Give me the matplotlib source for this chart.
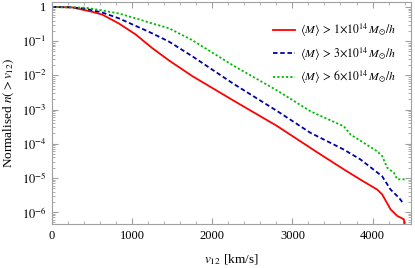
import numpy as np
import matplotlib
matplotlib.use("Agg")
import matplotlib.pyplot as plt
from matplotlib.ticker import FixedLocator, MultipleLocator, FuncFormatter, LogLocator

plt.rcParams['font.family'] = ['Liberation Serif', 'DejaVu Serif']
plt.rcParams['mathtext.fontset'] = 'stix'

# v12 [km/s] and log10 of normalised n(>v12)
v_red = [0, 250, 500, 625, 833, 1042, 1250, 1458, 1750, 2267, 2808, 3290, 3642, 3850,
         4058, 4120, 4225, 4308, 4392, 4405]
logn_red = [0, -0.01, -0.14, -0.22, -0.48, -0.8, -1.2, -1.56, -2.02, -2.74, -3.48,
            -4.22, -4.75, -5.05, -5.34, -5.48, -5.92, -6.11, -6.21, -6.6]

v_blue = [0, 250, 417, 625, 833, 1042, 1250, 1458, 1750, 2267, 2808, 3225, 3642, 3850,
          4120, 4225, 4330, 4392]
logn_blue = [0, -0.01, -0.05, -0.16, -0.33, -0.55, -0.77, -1.01, -1.44, -2.25, -3.04,
             -3.68, -4.17, -4.46, -4.95, -5.34, -5.58, -5.77]

v_green = [0, 417, 625, 833, 1042, 1250, 1458, 1750, 2267, 2808, 3225, 3642, 3725,
           4058, 4120, 4183, 4267, 4308, 4430]
logn_green = [0, -0.02, -0.1, -0.19, -0.33, -0.48, -0.62, -0.97, -1.72, -2.44, -3.05,
              -3.49, -3.73, -4.22, -4.36, -4.7, -4.85, -5.04, -5.04]

labels = [r'$\langle M\rangle\,>\,1{\times}10^{14}\,M_{\odot}/h$',
          r'$\langle M\rangle\,>\,3{\times}10^{14}\,M_{\odot}/h$',
          r'$\langle M\rangle\,>\,6{\times}10^{14}\,M_{\odot}/h$']

fig = plt.figure(figsize=(4.15, 2.68), dpi=100)
ax = fig.add_axes([52/415, 1-224/268, (411-52)/415, (224-2)/268])

ax.plot(v_red, 10**np.array(logn_red), color='#ff0000', lw=1.3, ls='-', label=labels[0])
ax.plot(v_blue, 10**np.array(logn_blue), color='#0000aa', lw=1.3, ls=(0, (2.5, 1.5)), label=labels[1])
ax.plot(v_green, 10**np.array(logn_green), color='#00bb00', lw=1.3, ls=(0, (1.2, 1.2)), label=labels[2])

ax.set_yscale('log')
ax.set_xlim(0, 4480)
ax.set_ylim(4.5e-7, 1.4)

ax.xaxis.set_major_locator(MultipleLocator(1000))
ax.xaxis.set_minor_locator(MultipleLocator(200))
ax.yaxis.set_major_locator(FixedLocator([10.0**k for k in range(-6, 1)]))
ax.yaxis.set_minor_locator(LogLocator(base=10, subs=np.arange(2, 10)))
ax.yaxis.set_major_formatter(FuncFormatter(
    lambda y, p: '1' if abs(np.log10(y)) < 1e-6 else r'$10^{%d}$' % round(np.log10(y))))

for s in ax.spines.values():
    s.set_color('#a0a0a0')
    s.set_linewidth(0.8)
ax.tick_params(which='both', direction='in', top=True, right=True, color='#a0a0a0',
               labelsize=9, pad=4)
ax.tick_params(which='major', length=4)
ax.tick_params(which='minor', length=2)

ax.set_xlabel(r'$v_{12}$ [km/s]', fontsize=9.5, labelpad=8)
ax.set_ylabel(r'Normalised $n(>v_{12})$', fontsize=9.5, labelpad=4)

leg = ax.legend(loc='upper right', frameon=False, fontsize=8.5, handlelength=1.8,
                handletextpad=0.5, labelspacing=0.55, bbox_to_anchor=(0.99, 0.96))

fig.savefig('out.png', dpi=100)
